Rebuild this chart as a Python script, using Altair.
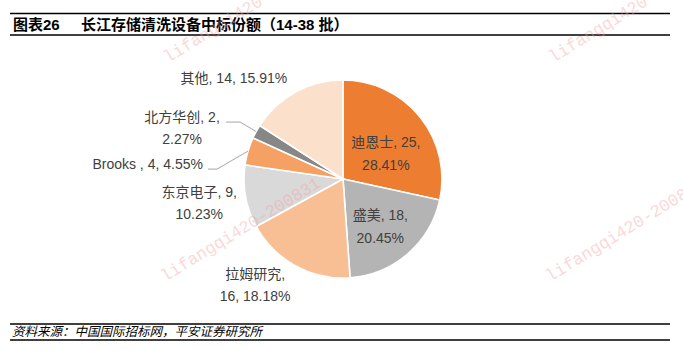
import math
import altair as alt
import pandas as pd

# ---- data ----
categories = ["迪恩士", "盛美", "拉姆研究", "东京电子", "Brooks ", "北方华创", "其他"]
values = [25, 18, 16, 9, 4, 2, 14]
percents = ["28.41%", "20.45%", "18.18%", "10.23%", "4.55%", "2.27%", "15.91%"]
# where each data label wraps: "value" = after the value, "name" = after the name, "" = one line
wraps = ["value", "value", "name", "value", "", "value", ""]
colors = ["#ED7D31", "#B4B4B4", "#F8BF94", "#D9D9D9", "#F4A163", "#878787", "#FBE0CB"]

title_no = "图表26"
title_txt = "长江存储清洗设备中标份额（14-38 批）"
source_txt = "资料来源：中国国际招标网，平安证券研究所"
watermark = "lifangqi420-200831"

# ---- layout / style ----
W, H = 683, 351
CX, CY, R = 343, 179, 99
FONT = '"Liberation Sans", "Noto Sans CJK SC", sans-serif'
CJK = '"Noto Sans CJK SC", "Liberation Sans", sans-serif'
LABEL_COLOR = "#404040"
# per-label placement: radius from centre, dx, dy
placement = {
    "迪恩士": (55, 0, -1),
    "盛美": (60, -2, -8),
    "拉姆研究": (125, -28, -14),
    "东京电子": (140, -6, -11),
    "Brooks ": (115, -85, 18),
    "北方华创": (115, -60, -6),
    "其他": (115, -54, 1),
}
# leader-line elbow and end offsets from the slice edge
leaders = {
    "Brooks ": [(-31, 18), (-40, 18)],
    "北方华创": [(-16, -9.5), (-30, -9.5)],
}


def make_label(name, v, p, w):
    if w == "value":
        return f"{name}, {v},\n{p}"
    if w == "name":
        return f"{name},\n{v}, {p}"
    return f"{name}, {v}, {p}"


total = sum(values)
df = pd.DataFrame({
    "category": categories,
    "value": values,
    "order": list(range(len(categories))),
    "label": [make_label(c, v, p, w) for c, v, p, w in zip(categories, values, percents, wraps)],
})

theta_scale = alt.Scale(domain=[0, total])

arc = alt.Chart(df).mark_arc(outerRadius=R, stroke="white", strokeWidth=1.6).encode(
    theta=alt.Theta("value:Q", stack=True, scale=theta_scale),
    color=alt.Color("category:N", scale=alt.Scale(domain=categories, range=colors), legend=None),
    order=alt.Order("order:Q"),
    x=alt.value(CX),
    y=alt.value(CY),
)

label_layers = []
for c in categories:
    r, dx, dy = placement[c]
    lay = (
        alt.Chart(df)
        .transform_window(cum="sum(value)", sort=[alt.SortField("order")])
        .transform_calculate(mid="datum.cum - datum.value / 2")
        .transform_filter(alt.datum.category == c)
        .mark_text(radius=r, dx=dx, dy=dy, lineBreak="\n", font=FONT, fontSize=14,
                   color=LABEL_COLOR, lineHeight=22.5, align="center", baseline="middle")
        .encode(
            theta=alt.Theta("mid:Q", scale=theta_scale),
            text="label:N",
            x=alt.value(CX),
            y=alt.value(CY),
        )
    )
    label_layers.append(lay)

# leader lines, starting at each slice's mid-angle edge
rows = []
cum = 0
for c, v in zip(categories, values):
    mid = (cum + v / 2) / total * 2 * math.pi
    cum += v
    if c in leaders:
        sx = CX + R * math.sin(mid)
        sy = CY - R * math.cos(mid)
        rows.append({"lid": c, "seq": 0, "px": sx, "py": sy})
        for i, (ox, oy) in enumerate(leaders[c]):
            rows.append({"lid": c, "seq": i + 1, "px": sx + ox, "py": sy + oy})
lead_df = pd.DataFrame(rows)
lead = alt.Chart(lead_df).mark_line(color="#A6A6A6", strokeWidth=1).encode(
    x=alt.X("px:Q", scale=None, axis=None),
    y=alt.Y("py:Q", scale=None, axis=None),
    detail="lid:N",
    order="seq:Q",
)

# header / footer
def rule(y):
    return alt.Chart(pd.DataFrame({"a": [0]})).mark_rule(color="black", strokeWidth=1.3).encode(
        x=alt.value(10), x2=alt.value(670), y=alt.value(y))


def text_at(t, x, y, **kw):
    return alt.Chart(pd.DataFrame({"t": [t]})).mark_text(align="left", baseline="middle", **kw).encode(
        text="t:N", x=alt.value(x), y=alt.value(y))


header = [
    rule(13.5), rule(35),
    text_at(title_no, 13, 25, font=FONT, fontSize=15, fontWeight="bold", color="black"),
    text_at(title_txt, 81, 25, font=FONT, fontSize=15, fontWeight="bold", color="black"),
    rule(324), rule(340),
    text_at(source_txt, 12, 332, font=CJK, fontSize=12.5, fontStyle="italic", color="black"),
]

wm_df = pd.DataFrame({
    "t": [watermark] * 4,
    "wx": [168, 553, 165, 550],
    "wy": [63, 63, 282, 282],
})
wm = alt.Chart(wm_df).mark_text(
    angle=328.5, font='"Liberation Mono", monospace', fontSize=17, color="#F4A0A0",
    opacity=0.4, align="left", baseline="alphabetic",
).encode(x=alt.X("wx:Q", scale=None, axis=None), y=alt.Y("wy:Q", scale=None, axis=None), text="t:N")

chart = alt.layer(arc, lead, *label_layers, *header, wm).properties(
    width=W, height=H, padding=0, autosize=alt.AutoSizeParams(type="none"), background="white"
).configure_view(stroke=None)

chart.save("out.html", embed_options={"renderer": "svg", "actions": False})
